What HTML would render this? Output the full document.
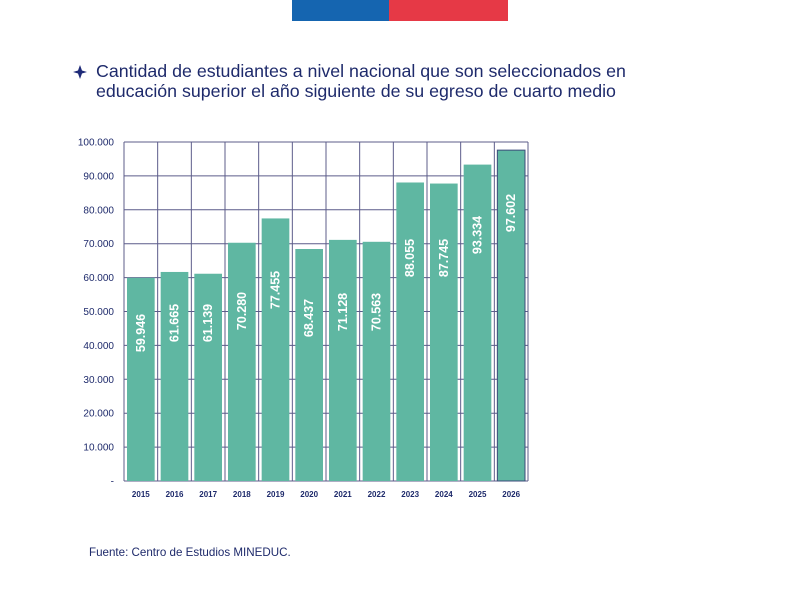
<!DOCTYPE html>
<html><head><meta charset="utf-8"><style>
body{margin:0;background:#fff;}
svg{display:block;font-family:"Liberation Sans",sans-serif;}
</style></head><body>
<svg width="800" height="600" viewBox="0 0 800 600">
<rect x="292" y="0" width="97" height="21" fill="#1565b0"/>
<rect x="389" y="0" width="119" height="21" fill="#e63946"/>
<path d="M80 65 L82 70.5 L87 72 L82 73.5 L80 79 L78 73.5 L73 72 L78 70.5 Z" fill="#1e2a78"/>
<text x="96" y="77" font-size="17.8" fill="#1e2a6b">Cantidad de estudiantes a nivel nacional que son seleccionados en</text>
<text x="96" y="97" font-size="17.8" fill="#1e2a6b">educación superior el año siguiente de su egreso de cuarto medio</text>
<g id="grid" stroke="#5c5c8a" stroke-width="1" fill="none"></g>
<g id="bars"></g>
<text x="89" y="556" font-size="11.6" fill="#1e2a6b">Fuente: Centro de Estudios MINEDUC.</text>
<script>
var svg=document.querySelector('svg'),ns='http://www.w3.org/2000/svg';
function el(t,a,p,txt){var e=document.createElementNS(ns,t);for(var k in a)e.setAttribute(k,a[k]);if(txt)e.textContent=txt;(p||svg).appendChild(e);return e;}
var L=124,R=528,T=142,B=481,sw=(R-L)/12,g=document.getElementById('grid'),bg=document.getElementById('bars');
for(var i=0;i<=10;i++){var y=B-(B-T)*i/10;el('line',{x1:L,x2:R,y1:y,y2:y},g);
el('text',{x:114,y:y+3.5,'font-size':10,fill:'#1e2a6b','text-anchor':'end'},svg,i==0?'-':(i*10)+'.000');}
for(var i=0;i<=12;i++){var x=L+sw*i;el('line',{x1:x,x2:x,y1:T,y2:B},g);}
var v=[59946,61665,61139,70280,77455,68437,71128,70563,88055,87745,93334,97602];
var lc=[333,323,323,311,290,318,312,312,258,258,235,213];
v.forEach(function(d,i){var x=L+sw*i+3,w=sw-6,h=(B-T)*d/100000;
var r=el('rect',{x:x,y:B-h,width:w,height:h,fill:'#5fb7a2'},bg);
if(i==11){r.setAttribute('stroke','#3b4a7a');r.setAttribute('stroke-width','1');}
var cx=x+w/2+4;
el('text',{x:cx,y:lc[i],'font-size':12.5,'font-weight':'bold',fill:'#fff','text-anchor':'middle',transform:'rotate(-90 '+cx+' '+lc[i]+')'},bg,(d/1000).toFixed(3));
el('text',{x:x+w/2,y:497,'font-size':8,'font-weight':'bold',fill:'#1e2a6b','text-anchor':'middle'},bg,String(2015+i));
});
</script>
</svg>
</body></html>
